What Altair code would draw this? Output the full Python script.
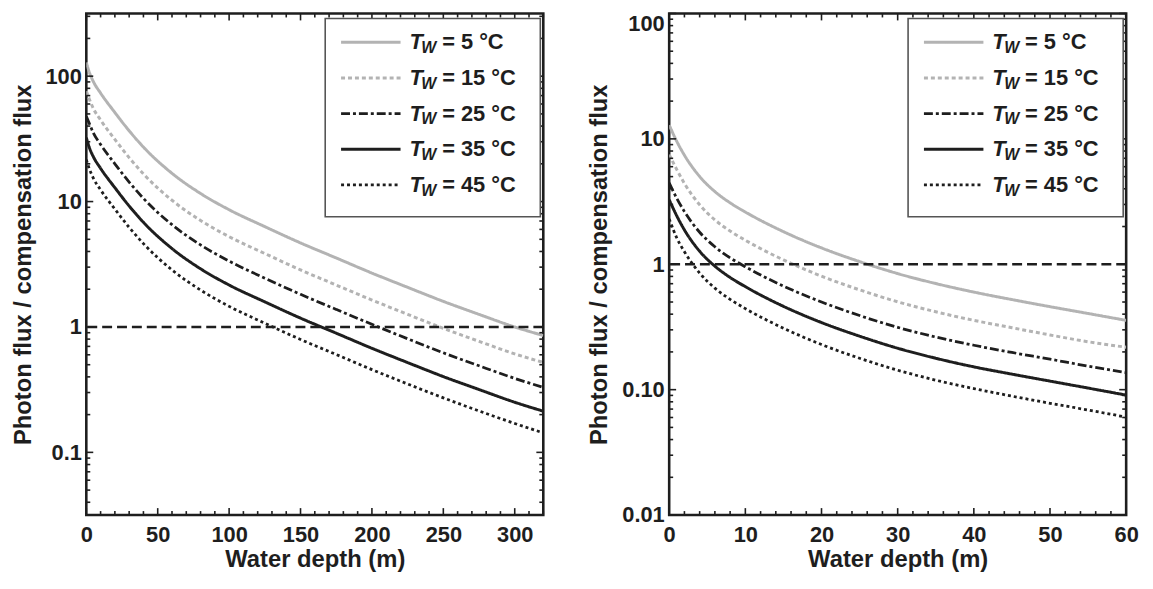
import altair as alt
import pandas as pd

# ---------------- data ----------------
temps = ["5 °C", "15 °C", "25 °C", "35 °C", "45 °C"]

left_depth = [0, 2, 5, 10, 20, 30, 40, 60, 80, 100, 125, 150, 175, 200, 225, 250, 275, 300, 320]
left_5 = [128.8, 108.4, 90.2, 73.3, 51.3, 36.7, 27.2, 16.8, 11.6, 8.61, 6.31, 4.68, 3.55, 2.69, 2.07, 1.60, 1.26, 1.0, 0.855]
left_15 = [76.0, 66.1, 55.0, 44.7, 31.3, 22.4, 16.6, 10.24, 7.07, 5.25, 3.85, 2.85, 2.16, 1.64, 1.26, 0.975, 0.768, 0.610, 0.521]
left_25 = [47.7, 42.2, 35.1, 28.5, 20.0, 14.3, 10.6, 6.54, 4.51, 3.35, 2.45, 1.82, 1.38, 1.05, 0.805, 0.622, 0.490, 0.389, 0.330]
left_35 = [32.4, 27.2, 22.7, 18.4, 12.9, 9.22, 6.83, 4.22, 2.91, 2.16, 1.585, 1.176, 0.892, 0.676, 0.520, 0.402, 0.317, 0.251, 0.213]
left_45 = [21.6, 18.4, 15.3, 12.4, 8.71, 6.23, 4.62, 2.85, 1.97, 1.46, 1.07, 0.795, 0.603, 0.457, 0.351, 0.272, 0.214, 0.170, 0.143]

right_depth = [0, 1, 2, 4, 6, 8, 10, 15, 20, 25, 30, 35, 40, 45, 50, 55, 60]
right_5 = [12.88, 9.55, 7.41, 5.01, 3.80, 3.09, 2.61, 1.82, 1.35, 1.05, 0.843, 0.702, 0.600, 0.523, 0.459, 0.405, 0.357]
right_15 = [7.5, 5.69, 4.41, 2.98, 2.26, 1.84, 1.555, 1.084, 0.804, 0.625, 0.502, 0.418, 0.357, 0.312, 0.273, 0.241, 0.218]
right_25 = [4.46, 3.35, 2.63, 1.80, 1.38, 1.125, 0.955, 0.67, 0.50, 0.39, 0.314, 0.263, 0.226, 0.198, 0.175, 0.154, 0.137]
right_35 = [3.27, 2.43, 1.88, 1.27, 0.966, 0.785, 0.663, 0.462, 0.343, 0.267, 0.214, 0.178, 0.152, 0.133, 0.117, 0.103, 0.0905]
right_45 = [2.3, 1.62, 1.26, 0.851, 0.645, 0.525, 0.443, 0.309, 0.229, 0.178, 0.143, 0.119, 0.102, 0.0888, 0.0779, 0.0688, 0.0604]

left_xmajor = [0, 50, 100, 150, 200, 250, 300]
right_xmajor = [0, 10, 20, 30, 40, 50, 60]
left_ylabels = {100: "100", 10: "10", 1: "1", 0.1: "0.1"}
right_ylabels = {100: "100", 10: "10", 1: "1", 0.1: "0.10", 0.01: "0.01"}

# ---------------- style ----------------
FONT = "Liberation Sans"
INK = "#1e1e1e"
GRAY = "#b3b3b3"
styles = [
    dict(color=GRAY, strokeDash=[1, 0], strokeWidth=3.0),
    dict(color=GRAY, strokeDash=[4, 3], strokeWidth=3.0),
    dict(color=INK, strokeDash=[9, 3, 3, 3], strokeWidth=2.8),
    dict(color=INK, strokeDash=[1, 0], strokeWidth=3.0),
    dict(color=INK, strokeDash=[3, 3], strokeWidth=2.8),
]
W, H = 461, 506
MAJ, MIN = 7, 4


def panel(depth, series, xdom, xmajor, xstep, ydom, ylabels):
    xs = alt.Scale(domain=xdom, nice=False, zero=False)
    ys = alt.Scale(type="log", domain=ydom, nice=False)
    xminor = [v for v in range(xdom[0], xdom[1] + 1, xstep) if v not in xmajor]
    ymajor = list(ylabels.keys())
    yminor = []
    for e in range(-3, 3):
        for k in range(2, 10):
            v = round(k * 10.0 ** e, 6)
            if ydom[0] <= v <= ydom[1]:
                yminor.append(v)

    ylab = "''"
    for k, s in ylabels.items():
        ylab = f"datum.value == {k!r} ? '{s}' : ({ylab})"
    # a label sitting exactly on the top edge is kept inside the frame
    top_test = f"datum.value >= {ydom[1] * 0.999!r}"

    x_axis = alt.Axis(values=xmajor, ticks=False, domain=False, grid=False,
                      labelFlush=False, labelPadding=10, labelOverlap=False,
                      title="Water depth (m)", titlePadding=2)
    y_axis = alt.Axis(values=ymajor, ticks=False, domain=False, grid=False,
                      labelExpr=ylab, labelFlush=False, labelPadding=5, labelOverlap=False,
                      labelBaseline={"condition": {"test": top_test, "value": "top"}, "value": "middle"},
                      title="Photon flux / compensation flux", titlePadding=10)

    layers = []
    for i, (vals, st) in enumerate(zip(series, styles)):
        df = pd.DataFrame({"depth": depth, "ratio": vals})
        layers.append(
            alt.Chart(df).mark_line(interpolate="monotone", clip=True, **st).encode(
                x=alt.X("depth:Q", scale=xs, axis=x_axis if i == 0 else None),
                y=alt.Y("ratio:Q", scale=ys, axis=y_axis if i == 0 else None),
            )
        )
    # compensation line (ratio = 1)
    layers.append(
        alt.Chart(pd.DataFrame({"ratio": [1]})).mark_rule(
            color=INK, strokeWidth=2.6, strokeDash=[10, 5]
        ).encode(y=alt.Y("ratio:Q", scale=ys, axis=None))
    )

    # inward ticks on all four sides, placed through the panel's scales
    tick_style = dict(color=INK, strokeWidth=1.6)
    for vals, ln in ((xmajor, MAJ), (xminor, MIN)):
        d = pd.DataFrame({"depth": vals})
        layers.append(alt.Chart(d).mark_rule(**tick_style).encode(
            x=alt.X("depth:Q", scale=xs, axis=None), y=alt.value(H), y2=alt.value(H - ln)))
        layers.append(alt.Chart(d).mark_rule(**tick_style).encode(
            x=alt.X("depth:Q", scale=xs, axis=None), y=alt.value(0), y2=alt.value(ln)))
    for vals, ln in ((ymajor, MAJ), (yminor, MIN)):
        d = pd.DataFrame({"ratio": vals})
        layers.append(alt.Chart(d).mark_rule(**tick_style).encode(
            y=alt.Y("ratio:Q", scale=ys, axis=None), x=alt.value(0), x2=alt.value(ln)))
        layers.append(alt.Chart(d).mark_rule(**tick_style).encode(
            y=alt.Y("ratio:Q", scale=ys, axis=None), x=alt.value(W), x2=alt.value(W - ln)))

    # legend box, drawn inside the plot
    bx1, bx0 = W - 3, W - 3 - 217
    by0, by1 = 5, 205
    one = pd.DataFrame({"a": [0]})
    layers.append(
        alt.Chart(one).mark_rect(fill="white", stroke="#555555", strokeWidth=1.6).encode(
            x=alt.value(bx0), x2=alt.value(bx1), y=alt.value(by0), y2=alt.value(by1)
        )
    )
    for i, (t, st) in enumerate(zip(temps, styles)):
        ry = by0 + 24 + 36 * i
        layers.append(
            alt.Chart(one).mark_rule(**st).encode(
                x=alt.value(bx0 + 16), x2=alt.value(bx0 + 76), y=alt.value(ry)
            )
        )
        tx = bx0 + 85
        layers.append(
            alt.Chart(one).mark_text(text="T", font=FONT, fontSize=22, fontStyle="italic",
                                     fontWeight="bold", color=INK, align="left", baseline="middle").encode(
                x=alt.value(tx), y=alt.value(ry))
        )
        layers.append(
            alt.Chart(one).mark_text(text="W", font=FONT, fontSize=16, fontStyle="italic",
                                     fontWeight="bold", color=INK, align="left", baseline="middle").encode(
                x=alt.value(tx + 12), y=alt.value(ry + 6))
        )
        layers.append(
            alt.Chart(one).mark_text(text="= " + t, font=FONT, fontSize=22,
                                     fontWeight="bold", color=INK, align="left", baseline="middle").encode(
                x=alt.value(tx + 33), y=alt.value(ry))
        )

    return alt.layer(*layers).resolve_axis(x="independent", y="independent").properties(width=W, height=H)


left = panel(left_depth, [left_5, left_15, left_25, left_35, left_45],
             [0, 320], left_xmajor, 10, [10 ** -1.5, 10 ** 2.5], left_ylabels)
right = panel(right_depth, [right_5, right_15, right_25, right_35, right_45],
              [0, 60], right_xmajor, 2, [0.01, 100], right_ylabels)

chart = alt.hconcat(left, right, spacing=40).properties(
    padding={"left": 1, "top": 0, "right": 5, "bottom": 5}
).configure_view(stroke=INK, strokeWidth=2.6).configure_axis(
    labelFont=FONT, labelFontSize=22, labelFontWeight="bold", labelColor=INK,
    titleFont=FONT, titleFontSize=24, titleFontWeight="bold", titleColor=INK,
)

chart.save("out.html", embed_options={"renderer": "svg", "actions": False})
